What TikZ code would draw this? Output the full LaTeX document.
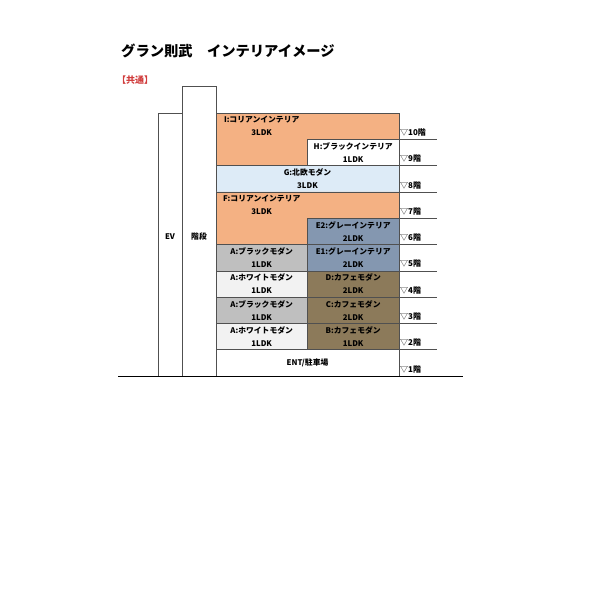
\documentclass[tikz,border=0pt]{standalone}
\usepackage{fontspec}
\setmainfont{Noto Sans CJK JP}
\definecolor{cOrange}{HTML}{F4B183}
\definecolor{cLBlue}{HTML}{DDEBF7}
\definecolor{cBGray}{HTML}{8497B0}
\definecolor{cGray}{HTML}{BFBFBF}
\definecolor{cWhite}{HTML}{F2F2F2}
\definecolor{cBrown}{HTML}{8C7A5A}
\definecolor{cRed}{HTML}{D03C3C}
\definecolor{cLine}{HTML}{505050}
\begin{document}
\begin{tikzpicture}[x=1pt,y=-1pt,
  cell/.style={draw=cLine,line width=0.5pt},
  wall/.style={draw=cLine,line width=0.6pt},
  lbl/.style={font=\fontsize{7.8}{8}\selectfont\bfseries,inner sep=0pt},
  flr/.style={font=\fontsize{8}{9}\selectfont,inner sep=0pt,anchor=west},
  floorline/.style={draw=cLine,line width=0.6pt}]
\useasboundingbox (0,0) rectangle (600,600);
% title
\node[anchor=west,inner sep=0pt,font=\fontsize{14.3}{16}\selectfont\bfseries] (title) at (121,51) {グラン則武　インテリアイメージ};
\node[anchor=west,inner sep=0pt,font=\fontsize{9}{10}\selectfont\bfseries,text=cRed] (common) at (117,80) {【共通】};
% EV and stairs
\draw[wall] (158,113) rectangle (182,376);
\draw[wall] (182,86) rectangle (216,376);
\node[lbl] (ev) at (170,237) {EV};
\node[lbl] (stair) at (199,237) {階段};
% cells
\filldraw[cell,fill=cOrange] (216,113) -- (399,113) -- (399,139.3) -- (307.5,139.3) -- (307.5,165.6) -- (216,165.6) -- cycle;
\filldraw[cell,fill=white] (307.5,139.3) rectangle (399,165.6);
\filldraw[cell,fill=cLBlue] (216,165.6) rectangle (399,191.9);
\filldraw[cell,fill=cOrange] (216,191.9) -- (399,191.9) -- (399,218.2) -- (307.5,218.2) -- (307.5,244.5) -- (216,244.5) -- cycle;
\filldraw[cell,fill=cBGray] (307.5,218.2) rectangle (399,244.5);
\filldraw[cell,fill=cGray] (216,244.5) rectangle (307.5,270.8);
\filldraw[cell,fill=cBGray] (307.5,244.5) rectangle (399,270.8);
\filldraw[cell,fill=cWhite] (216,270.8) rectangle (307.5,297.1);
\filldraw[cell,fill=cBrown] (307.5,270.8) rectangle (399,297.1);
\filldraw[cell,fill=cGray] (216,297.1) rectangle (307.5,323.4);
\filldraw[cell,fill=cBrown] (307.5,297.1) rectangle (399,323.4);
\filldraw[cell,fill=cWhite] (216,323.4) rectangle (307.5,349.7);
\filldraw[cell,fill=cBrown] (307.5,323.4) rectangle (399,349.7);
\filldraw[cell,fill=white] (216,349.7) rectangle (399,376);
% right wall and floor lines
\draw[line width=0.9pt,draw=cLine] (399,113) -- (399,376);
\foreach \y in {139.3,165.6,191.9,218.2,244.5,270.8,297.1,323.4,349.7}
  \draw[floorline] (399,\y) -- (437,\y);
\draw[line width=1.8pt] (118,376.5) -- (463,376.5);
% cell labels
\node[lbl] (iN) at (261.7,120) {I:コリアンインテリア};
\node[lbl] (iL) at (261.7,133) {3LDK};
\node[lbl] (hN) at (353.2,146.3) {H:ブラックインテリア};
\node[lbl] (hL) at (353.2,159.3) {1LDK};
\node[lbl] (gN) at (307.5,172.6) {G:北欧モダン};
\node[lbl] (gL) at (307.5,185.6) {3LDK};
\node[lbl] (fN) at (261.7,198.9) {F:コリアンインテリア};
\node[lbl] (fL) at (261.7,211.9) {3LDK};
\node[lbl] (e2N) at (353.2,225.2) {E2:グレーインテリア};
\node[lbl] (e2L) at (353.2,238.2) {2LDK};
\node[lbl] (a5N) at (261.7,251.5) {A:ブラックモダン};
\node[lbl] (a5L) at (261.7,264.5) {1LDK};
\node[lbl] (e1N) at (353.2,251.5) {E1:グレーインテリア};
\node[lbl] (e1L) at (353.2,264.5) {2LDK};
\node[lbl] (a4N) at (261.7,277.8) {A:ホワイトモダン};
\node[lbl] (a4L) at (261.7,290.8) {1LDK};
\node[lbl] (dN) at (353.2,277.8) {D:カフェモダン};
\node[lbl] (dL) at (353.2,290.8) {2LDK};
\node[lbl] (a3N) at (261.7,304.1) {A:ブラックモダン};
\node[lbl] (a3L) at (261.7,317.1) {1LDK};
\node[lbl] (cN) at (353.2,304.1) {C:カフェモダン};
\node[lbl] (cL) at (353.2,317.1) {2LDK};
\node[lbl] (a2N) at (261.7,330.4) {A:ホワイトモダン};
\node[lbl] (a2L) at (261.7,343.4) {1LDK};
\node[lbl] (bN) at (353.2,330.4) {B:カフェモダン};
\node[lbl] (bL) at (353.2,343.4) {1LDK};
\node[lbl] (ent) at (307.5,362.5) {ENT/駐車場};
% floor labels
\node[flr] (f10) at (400,132.5) {▽\textbf{10階}};
\node[flr] (f9) at (400,158.8) {▽\textbf{9階}};
\node[flr] (f8) at (400,185.1) {▽\textbf{8階}};
\node[flr] (f7) at (400,211.4) {▽\textbf{7階}};
\node[flr] (f6) at (400,237.7) {▽\textbf{6階}};
\node[flr] (f5) at (400,264) {▽\textbf{5階}};
\node[flr] (f4) at (400,290.3) {▽\textbf{4階}};
\node[flr] (f3) at (400,316.6) {▽\textbf{3階}};
\node[flr] (f2) at (400,342.9) {▽\textbf{2階}};
\node[flr] (f1) at (400,369.2) {▽\textbf{1階}};
\end{tikzpicture}
\end{document}
